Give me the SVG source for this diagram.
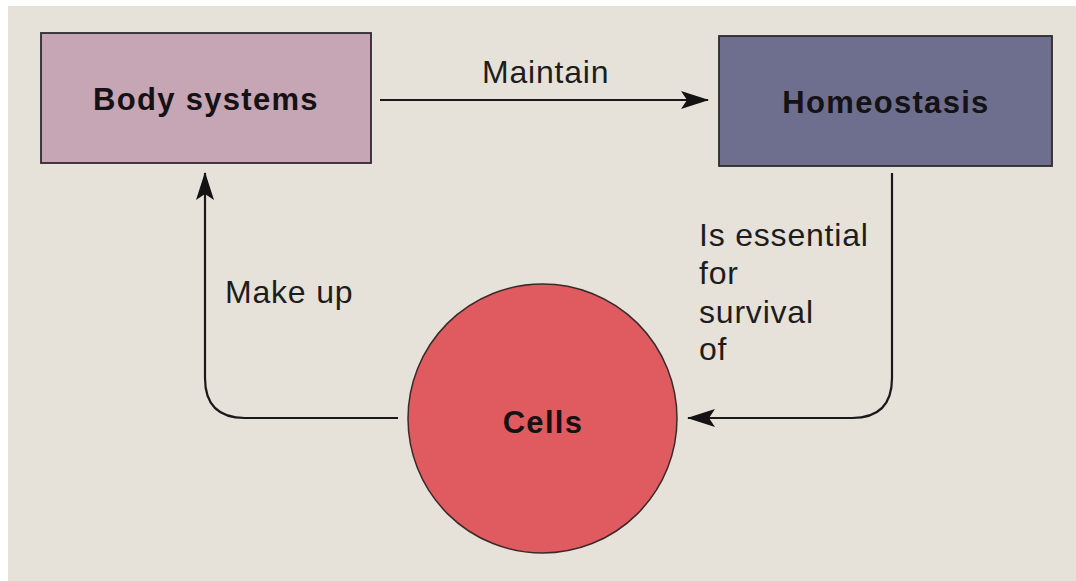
<svg xmlns="http://www.w3.org/2000/svg" width="1076" height="581" viewBox="0 0 1076 581">
<defs>
<style>
.lbl{font-family:"Liberation Sans",Arial,sans-serif;font-size:32px;fill:#1e1c1c;letter-spacing:0.8px}
.ttl{font-family:"Liberation Sans",Arial,sans-serif;font-size:31px;font-weight:bold;fill:#141214;letter-spacing:1.3px;text-anchor:middle}
.box{stroke:#2e2a2e;stroke-width:1.8}
.con{fill:none;stroke:#1a1818;stroke-width:2.2}
</style>
<marker id="ah" viewBox="0 0 28 18" refX="27" refY="9" markerWidth="28" markerHeight="18" markerUnits="userSpaceOnUse" orient="auto">
<path d="M0,0 L28,9 L0,18 L6,9 Z" fill="#141212"/>
</marker>
</defs>
<rect x="0" y="0" width="1076" height="581" fill="#ffffff"/>
<rect x="8" y="6" width="1068" height="575" fill="#e6e2da"/>
<g id="connectors">
<line class="con" x1="380" y1="100" x2="708" y2="100" marker-end="url(#ah)"/>
<path class="con" d="M892,173 L892,378 Q892,418 852,418 L688,418" marker-end="url(#ah)"/>
<path class="con" d="M398,418 L245,418 Q205,418 205,378 L205,173" marker-end="url(#ah)"/>
</g>
<g id="label-maintain"><text class="lbl" x="482" y="83">Maintain</text></g>
<g id="label-makeup"><text class="lbl" x="225" y="303">Make up</text></g>
<g id="label-essential">
<text class="lbl" x="699" y="246">Is essential</text>
<text class="lbl" x="699" y="284">for</text>
<text class="lbl" x="699" y="323">survival</text>
<text class="lbl" x="699" y="360">of</text>
</g>
<g id="node-body">
<rect class="box" x="41" y="33" width="330" height="130" fill="#c6a5b4"/>
<text class="ttl" x="206" y="110">Body systems</text>
</g>
<g id="node-homeostasis">
<rect class="box" x="719" y="36" width="333" height="130" fill="#6e6f8e"/>
<text class="ttl" x="886" y="113">Homeostasis</text>
</g>
<g id="node-cells">
<circle cx="542.5" cy="418.5" r="134.5" fill="#df5b60" stroke="#3a2a2a" stroke-width="1.5"/>
<text class="ttl" x="543" y="433">Cells</text>
</g>
</svg>
